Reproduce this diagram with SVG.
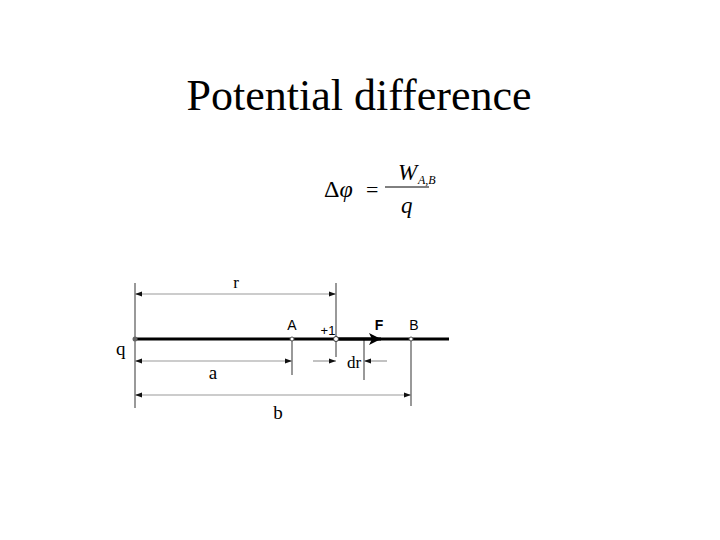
<svg xmlns="http://www.w3.org/2000/svg" width="720" height="540" viewBox="0 0 720 540">
<defs>
<style>
.serif{font-family:"Liberation Serif",serif;fill:#000}
.sans{font-family:"Liberation Sans",Arial,sans-serif;fill:#000}
.ext{stroke:#555;stroke-width:1.2;fill:none}
.dim{stroke:#999;stroke-width:1.2;fill:none}
</style>
<marker id="ah" viewBox="0 0 10 10" refX="10" refY="5" markerWidth="7" markerHeight="7" orient="auto-start-reverse" markerUnits="userSpaceOnUse">
<path d="M0,1.5 L10,5 L0,8.5 Z" fill="#111"/>
</marker>
<marker id="big" viewBox="0 0 10 10" refX="10" refY="5" markerWidth="14" markerHeight="12" orient="auto" markerUnits="userSpaceOnUse">
<path d="M0,0 L10,5 L0,10 L2.5,5 Z" fill="#000"/>
</marker>
</defs>
<rect width="720" height="540" fill="#fff"/>
<g id="title"><text class="serif" x="359" y="110" font-size="44" text-anchor="middle">Potential difference</text></g>
<g id="formula">
<text class="serif" x="324" y="197" font-size="24">Δ<tspan font-style="italic">φ</tspan></text>
<text class="serif" x="366" y="197" font-size="22">=</text>
<line x1="385" y1="187" x2="429" y2="187" stroke="#000" stroke-width="1"/>
<text class="serif" x="398" y="180" font-size="23" font-style="italic">W</text>
<text class="serif" x="418" y="184" font-size="12" font-style="italic">A,B</text>
<text class="serif" x="401" y="213" font-size="23" font-style="italic">q</text>
</g>
<g id="connectors">
<line class="ext" x1="135" y1="283" x2="135" y2="408"/>
<line class="ext" x1="336" y1="283" x2="336" y2="357"/>
<line class="ext" x1="292" y1="339" x2="292" y2="375"/>
<line class="ext" x1="364" y1="339" x2="364" y2="380"/>
<line class="ext" x1="411" y1="339" x2="411" y2="406"/>
<line class="dim" x1="135" y1="294" x2="336" y2="294" marker-start="url(#ah)" marker-end="url(#ah)"/>
<line class="dim" x1="135" y1="361" x2="292" y2="361" marker-start="url(#ah)" marker-end="url(#ah)"/>
<line class="dim" x1="135" y1="395" x2="411" y2="395" marker-start="url(#ah)" marker-end="url(#ah)"/>
<line class="dim" x1="313" y1="361" x2="336" y2="361" marker-end="url(#ah)"/>
<line class="dim" x1="387" y1="361" x2="364" y2="361" marker-end="url(#ah)"/>
<line x1="135" y1="339" x2="449" y2="339" stroke="#000" stroke-width="3"/>
<line x1="336" y1="339" x2="381" y2="339" stroke="#000" stroke-width="3" marker-end="url(#big)"/>
</g>
<g id="q"><circle cx="135" cy="339" r="2.5" fill="#666"/><text class="serif" x="116" y="355" font-size="19">q</text></g>
<g id="A"><circle cx="292" cy="339" r="2" fill="#fff" stroke="#555" stroke-width="1"/><text class="sans" x="292" y="330" font-size="14" text-anchor="middle">A</text></g>
<g id="plus1"><circle cx="336" cy="339" r="2.5" fill="#fff" stroke="#333" stroke-width="1"/><text class="sans" x="328" y="335" font-size="13" text-anchor="middle">+1</text></g>
<g id="F"><text class="sans" x="379" y="330" font-size="14" font-weight="bold" text-anchor="middle">F</text></g>
<g id="B"><circle cx="411" cy="339" r="2" fill="#fff" stroke="#555" stroke-width="1"/><text class="sans" x="414" y="330" font-size="14" text-anchor="middle">B</text></g>
<g id="labels">
<text class="serif" x="236" y="288" font-size="17" text-anchor="middle">r</text>
<text class="serif" x="213" y="379" font-size="19" text-anchor="middle">a</text>
<text class="serif" x="354" y="368" font-size="17" text-anchor="middle">dr</text>
<text class="serif" x="278" y="419" font-size="19" text-anchor="middle">b</text>
</g>
</svg>
